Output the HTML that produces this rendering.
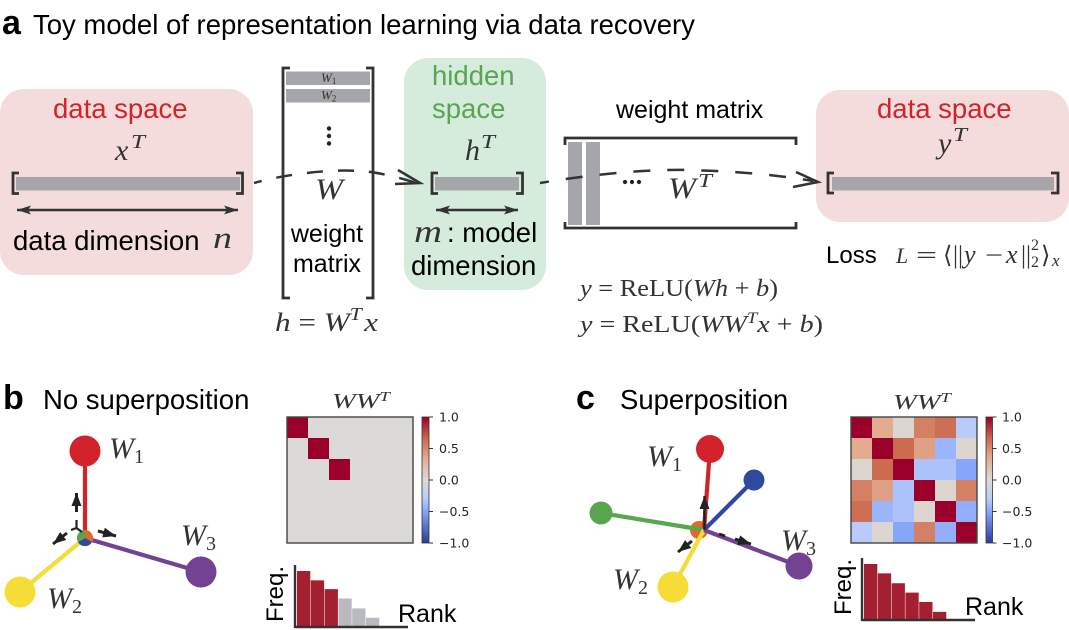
<!DOCTYPE html>
<html lang="en">
<head>
<meta charset="utf-8">
<title>Toy model of representation learning</title>
<style>
html,body{margin:0;padding:0;background:#fff;}
svg{display:block;}
text{font-family:"Liberation Sans",sans-serif;fill:#000;}
.m{font-family:"Liberation Serif",serif;font-style:italic;fill:#333;}
.r{font-family:"Liberation Serif",serif;font-style:normal;fill:#333;}
.tick{font-family:"DejaVu Sans",sans-serif;font-size:12.5px;fill:#262626;}
</style>
</head>
<body>
<svg id="fig" xmlns="http://www.w3.org/2000/svg" width="1069" height="630" viewBox="0 0 1069 630">
<defs>
<marker id="tip" markerUnits="userSpaceOnUse" markerWidth="15" markerHeight="9" refX="14" refY="4.5" orient="auto-start-reverse"><path d="M0,0 L14,4.5 L0,9 L3,4.5 Z" fill="#333"/></marker>
<marker id="small" markerUnits="userSpaceOnUse" markerWidth="14" markerHeight="10" refX="13" refY="5" orient="auto"><path d="M0,0 L13,5 L0,10 Z" fill="#222"/></marker>
<linearGradient id="cbar" x1="0" y1="0" x2="0" y2="1">
<stop offset="0" stop-color="#9a0029"/><stop offset="0.175" stop-color="#cd6b50"/><stop offset="0.325" stop-color="#e3ab90"/><stop offset="0.5" stop-color="#dcdad8"/><stop offset="0.65" stop-color="#b9cbfa"/><stop offset="0.75" stop-color="#86a6fb"/><stop offset="1" stop-color="#2a3a9a"/>
</linearGradient>
</defs>

<!-- Panel a -->
<text x="2" y="34" font-size="34" font-weight="bold">a</text>
<text x="33" y="34" font-size="27.5">Toy model of representation learning via data recovery</text>

<rect x="0" y="89" width="253" height="186" rx="24" fill="#f4dcdc"/>
<rect x="404" y="58" width="142" height="232" rx="24" fill="#d5ebdc"/>
<rect x="816" y="90" width="253" height="132" rx="24" fill="#f4dcdc"/>

<text x="53" y="118" font-size="27.5" style="fill:#d2232a">data space</text>
<text class="m" x="115" y="160" font-size="30">x</text>
<text class="m" x="131" y="148" font-size="20" textLength="14" lengthAdjust="spacingAndGlyphs">T</text>
<rect x="16" y="177" width="224" height="13.5" fill="#a5a6a9"/>
<path d="M19,173 H13 V193.5 H19" fill="none" stroke="#333" stroke-width="2.8"/>
<path d="M236,173 H242.5 V193.5 H236" fill="none" stroke="#333" stroke-width="2.8"/>
<line x1="17" y1="210" x2="238" y2="210" stroke="#333" stroke-width="2.4" marker-start="url(#tip)" marker-end="url(#tip)"/>
<text x="13" y="250" font-size="27.5">data dimension</text>
<text class="m" x="213" y="248" font-size="31" textLength="19" lengthAdjust="spacingAndGlyphs">n</text>

<path d="M290,68 H283 V298 H290" fill="none" stroke="#333" stroke-width="2.8"/>
<path d="M366,68 H373 V298 H366" fill="none" stroke="#333" stroke-width="2.8"/>
<rect x="286" y="71.5" width="84" height="13.5" fill="#a5a6a9"/>
<rect x="286" y="89" width="84" height="13.5" fill="#a5a6a9"/>
<text class="m" x="321" y="82" font-size="13">W<tspan dy="2" font-size="9" font-style="normal">1</tspan></text>
<text class="m" x="321" y="99.5" font-size="13">W<tspan dy="2" font-size="9" font-style="normal">2</tspan></text>
<circle cx="329" cy="128.5" r="2.2" fill="#222"/>
<circle cx="329" cy="136" r="2.2" fill="#222"/>
<circle cx="329" cy="143.5" r="2.2" fill="#222"/>
<text class="m" x="315" y="199" font-size="30" textLength="28" lengthAdjust="spacingAndGlyphs">W</text>
<text x="327" y="242" font-size="25" text-anchor="middle">weight</text>
<text x="327" y="272" font-size="25" text-anchor="middle">matrix</text>
<text class="m" x="275" y="331" font-size="26" textLength="103" lengthAdjust="spacingAndGlyphs">h <tspan class="r">=</tspan> W<tspan dy="-11" font-size="18">T</tspan><tspan dy="11" dx="2">x</tspan></text>

<text x="432" y="85" font-size="27.5" style="fill:#5aa550">hidden</text>
<text x="432" y="118" font-size="27.5" style="fill:#5aa550">space</text>
<text class="m" x="465" y="160" font-size="30">h</text>
<text class="m" x="481" y="148" font-size="20" textLength="14" lengthAdjust="spacingAndGlyphs">T</text>
<rect x="435" y="177" width="84" height="13.5" fill="#a5a6a9"/>
<path d="M438,173 H432 V193.5 H438" fill="none" stroke="#333" stroke-width="2.8"/>
<path d="M516,173 H522.5 V193.5 H516" fill="none" stroke="#333" stroke-width="2.8"/>
<line x1="436" y1="210" x2="518" y2="210" stroke="#333" stroke-width="2.4" marker-start="url(#tip)" marker-end="url(#tip)"/>
<text class="m" x="414" y="242" font-size="32" textLength="28" lengthAdjust="spacingAndGlyphs">m</text>
<text x="447" y="242" font-size="27.5">: model</text>
<text x="411" y="275" font-size="27.5">dimension</text>

<path d="M254,183 C285,174 340,167 374,172.5 Q395,176 416,183" fill="none" stroke="#333" stroke-width="2.5" stroke-dasharray="16 15" stroke-dashoffset="8"/>
<path d="M398,170 L420,183 L395,184" fill="none" stroke="#333" stroke-width="2.6"/>

<text x="616" y="118" font-size="25">weight matrix</text>
<path d="M565,145 V138 H796 V145" fill="none" stroke="#333" stroke-width="2.8"/>
<path d="M565,222 V228 H796 V222" fill="none" stroke="#333" stroke-width="2.8"/>
<rect x="568" y="142" width="14" height="83" fill="#a5a6a9"/>
<rect x="586" y="142" width="14" height="83" fill="#a5a6a9"/>
<circle cx="625" cy="182" r="2.1" fill="#222"/>
<circle cx="632" cy="182" r="2.1" fill="#222"/>
<circle cx="639" cy="182" r="2.1" fill="#222"/>
<text class="m" x="668" y="198" font-size="30" textLength="28" lengthAdjust="spacingAndGlyphs">W</text>
<text class="m" x="698" y="187" font-size="20" textLength="14" lengthAdjust="spacingAndGlyphs">T</text>
<path d="M540,183 C600,173 660,168 700,170.5 Q760,172 813,181" fill="none" stroke="#333" stroke-width="2.5" stroke-dasharray="17 17" stroke-dashoffset="8"/>
<path d="M796,172 L818,182 L793,187" fill="none" stroke="#333" stroke-width="2.6"/>

<text x="877" y="118" font-size="27.5" style="fill:#d2232a">data space</text>
<text class="m" x="938" y="153" font-size="30">y</text>
<text class="m" x="953" y="141" font-size="20" textLength="14" lengthAdjust="spacingAndGlyphs">T</text>
<rect x="832" y="177" width="222" height="13.5" fill="#a5a6a9"/>
<path d="M834,173 H828 V193 H834" fill="none" stroke="#333" stroke-width="2.8"/>
<path d="M1051,173 H1058 V193 H1051" fill="none" stroke="#333" stroke-width="2.8"/>
<text x="826" y="263" font-size="24">Loss</text>
<g>
<text class="m" x="896" y="263" font-size="22">L</text>
<text class="r" x="916" y="263" font-size="24" textLength="21" lengthAdjust="spacingAndGlyphs">=</text>
<text class="r" x="943" y="263" font-size="24">⟨</text>
<text class="r" x="953" y="263" font-size="25">||</text>
<text class="m" x="964" y="263" font-size="26">y</text>
<text class="r" x="985" y="263" font-size="24" textLength="18" lengthAdjust="spacingAndGlyphs">−</text>
<text class="m" x="1006" y="263" font-size="26">x</text>
<text class="r" x="1021" y="263" font-size="25">||</text>
<text class="r" x="1031" y="250" font-size="16">2</text>
<text class="r" x="1031" y="267" font-size="16">2</text>
<text class="r" x="1041" y="263" font-size="24">⟩</text>
<text class="m" x="1052" y="266" font-size="17">x</text>
</g>
<text class="m" x="580" y="296" font-size="24" textLength="198" lengthAdjust="spacingAndGlyphs">y <tspan class="r">= ReLU(</tspan>Wh <tspan class="r">+</tspan> b<tspan class="r">)</tspan></text>
<text class="m" x="580" y="332" font-size="24" textLength="243" lengthAdjust="spacingAndGlyphs">y <tspan class="r">= ReLU(</tspan>WW<tspan dy="-9" font-size="16">T</tspan><tspan dy="9">x</tspan> <tspan class="r">+</tspan> b<tspan class="r">)</tspan></text>

<!-- Panel b -->
<text x="3" y="409" font-size="34" font-weight="bold">b</text>
<text x="43" y="409" font-size="27.5">No superposition</text>
<line x1="85" y1="451" x2="85" y2="538" stroke="#d2232a" stroke-width="4.2"/>
<line x1="20" y1="592" x2="85" y2="538" stroke="#f6dc37" stroke-width="4.2"/>
<line x1="201" y1="572" x2="85" y2="538" stroke="#744292" stroke-width="4.2"/>
<circle cx="85" cy="451" r="15.5" fill="#d2232a"/>
<circle cx="20" cy="592" r="15.5" fill="#f6dc37"/>
<circle cx="201" cy="572" r="15.5" fill="#744292"/>
<path d="M85,538 L85,530 A8,8 0 0 1 92,542 Z" fill="#df6a2a"/>
<path d="M85,538 L92,542 A8,8 0 0 1 78,542 Z" fill="#2e4a9e"/>
<path d="M85,538 L78,542 A8,8 0 0 1 85,530 Z" fill="#5aa550"/>
<line x1="76.5" y1="512" x2="76.5" y2="493" stroke="#222" stroke-width="3" marker-end="url(#small)"/>
<path d="M76.5,520 V528 M76.5,528 L71,530 M76.5,528 L82,532" fill="none" stroke="#222" stroke-width="2.2"/>
<line x1="67" y1="533" x2="53" y2="544" stroke="#222" stroke-width="3" marker-end="url(#small)"/>
<line x1="98" y1="531" x2="116" y2="536" stroke="#222" stroke-width="3" marker-end="url(#small)"/>
<text class="m" x="109" y="458" font-size="30">W<tspan dy="5" font-size="20" font-style="normal">1</tspan></text>
<text class="m" x="47" y="608" font-size="30">W<tspan dy="5" font-size="20" font-style="normal">2</tspan></text>
<text class="m" x="181" y="545" font-size="30">W<tspan dy="5" font-size="20" font-style="normal">3</tspan></text>

<text class="m" x="332" y="408" font-size="21" textLength="58" lengthAdjust="spacingAndGlyphs">WW<tspan dy="-7" font-size="14">T</tspan></text>
<g id="heatB"></g>
<g id="cbarB"></g>
<g id="barsB"></g>
<line x1="295" y1="565" x2="295" y2="628" stroke="#333" stroke-width="2.4"/>
<line x1="295" y1="627" x2="408" y2="627" stroke="#333" stroke-width="2.4"/>
<text x="0" y="0" font-size="24" transform="translate(283,622) rotate(-90)">Freq.</text>
<text x="398" y="622" font-size="25">Rank</text>

<!-- Panel c -->
<text x="576" y="409" font-size="34" font-weight="bold">c</text>
<text x="620" y="409" font-size="27.5">Superposition</text>
<circle cx="699" cy="530" r="9" fill="#df6a2a"/>
<line x1="710" y1="449" x2="704" y2="530" stroke="#d2232a" stroke-width="4.2"/>
<line x1="754" y1="480" x2="704" y2="530" stroke="#2e4a9e" stroke-width="4.2"/>
<line x1="601" y1="513" x2="704" y2="530" stroke="#5aa550" stroke-width="4.2"/>
<line x1="673" y1="587" x2="704" y2="530" stroke="#f6dc37" stroke-width="4.2"/>
<line x1="799" y1="566" x2="704" y2="530" stroke="#744292" stroke-width="4.2"/>
<circle cx="710" cy="449" r="14" fill="#d2232a"/>
<circle cx="754" cy="480" r="10.5" fill="#2e4a9e"/>
<circle cx="601" cy="513" r="11.5" fill="#5aa550"/>
<circle cx="673" cy="587" r="15.5" fill="#f6dc37"/>
<circle cx="799" cy="566" r="13.5" fill="#744292"/>
<line x1="704.5" y1="530" x2="704.5" y2="496" stroke="#222" stroke-width="2.4" marker-end="url(#small)"/>
<line x1="692" y1="541" x2="678" y2="552" stroke="#222" stroke-width="3" marker-end="url(#small)"/>
<line x1="735" y1="539" x2="751" y2="544" stroke="#222" stroke-width="3" marker-end="url(#small)"/>
<line x1="719" y1="534" x2="725" y2="536" stroke="#222" stroke-width="3"/>
<text class="m" x="647" y="466" font-size="30">W<tspan dy="5" font-size="20" font-style="normal">1</tspan></text>
<text class="m" x="613" y="589" font-size="30">W<tspan dy="5" font-size="20" font-style="normal">2</tspan></text>
<text class="m" x="781" y="550" font-size="30">W<tspan dy="5" font-size="20" font-style="normal">3</tspan></text>

<text class="m" x="893" y="409" font-size="21" textLength="58" lengthAdjust="spacingAndGlyphs">WW<tspan dy="-7" font-size="14">T</tspan></text>
<g id="heatC"></g>
<g id="cbarC"></g>
<g id="barsC"></g>
<line x1="862" y1="558" x2="862" y2="621" stroke="#333" stroke-width="2.4"/>
<line x1="862" y1="620" x2="975" y2="620" stroke="#333" stroke-width="2.4"/>
<text x="0" y="0" font-size="24" transform="translate(851,615) rotate(-90)">Freq.</text>
<text x="965" y="615" font-size="25">Rank</text>
</svg>

<script>
const matrixB = [
  [1, 0, 0, 0, 0, 0],
  [0, 1, 0, 0, 0, 0],
  [0, 0, 1, 0, 0, 0],
  [0, 0, 0, 0, 0, 0],
  [0, 0, 0, 0, 0, 0],
  [0, 0, 0, 0, 0, 0]
];
const matrixC = [
  [1, 0.35, 0.04, 0.55, 0.63, -0.3],
  [0.35, 1, 0.65, 0.4, -0.42, 0.04],
  [0.04, 0.65, 1, -0.35, -0.35, -0.5],
  [0.55, 0.4, -0.35, 1, 0.04, 0.55],
  [0.63, -0.42, -0.35, 0.04, 1, -0.45],
  [-0.3, 0.04, -0.5, 0.55, -0.45, 1]
];
const colorbarTicks = [1, 0.5, 0, -0.5, -1];
const colorbarTickLabels = ["1.0", "0.5", "0.0", "\u22120.5", "\u22121.0"];
const freqB = [1, 0.83, 0.67, 0.5, 0.32, 0.15];
const activeB = [1, 1, 1, 0, 0, 0];
const freqC = [1, 0.83, 0.65, 0.48, 0.31, 0.13];
const activeC = [1, 1, 1, 1, 1, 1];

const NS = "http://www.w3.org/2000/svg";
function lerpHex(a, b, t) {
  const pa = [1, 3, 5].map(i => parseInt(a.substr(i, 2), 16));
  const pb = [1, 3, 5].map(i => parseInt(b.substr(i, 2), 16));
  return "rgb(" + pa.map((v, i) => Math.round(v + (pb[i] - v) * t)).join(",") + ")";
}
function cmap(v) {
  const xs = [-1, -0.5, -0.3, 0, 0.35, 0.65, 1];
  const cs = ["#2a3a9a", "#86a6fb", "#b9cbfa", "#dcdad8", "#e3ab90", "#cd6b50", "#9a0029"];
  const c = Math.max(-1, Math.min(1, v));
  for (let i = 0; i < xs.length - 1; i++) {
    if (c <= xs[i + 1]) return lerpHex(cs[i], cs[i + 1], (c - xs[i]) / (xs[i + 1] - xs[i]));
  }
  return cs[cs.length - 1];
}
function make(tag, attrs) {
  const el = document.createElementNS(NS, tag);
  for (const k in attrs) el.setAttribute(k, attrs[k]);
  return el;
}
function drawHeat(id, matrix, x0, y0, size) {
  const g = document.getElementById(id);
  const n = matrix.length;
  const cell = size / n;
  matrix.forEach((row, r) => row.forEach((v, c) => {
    const rect = make("rect", {x: x0 + c * cell, y: y0 + r * cell, width: cell + 0.3, height: cell + 0.3, fill: cmap(v)});
    
    
    g.appendChild(rect);
  }));
  const frame = make("rect", {x: x0, y: y0, width: size, height: size, fill: "none", stroke: "#444", "stroke-width": 1.4});
  
  
  g.appendChild(frame);
}
function drawBar(id, x0, y0, w, h, labelX) {
  const g = document.getElementById(id);
  const yOf = v => y0 + (1 - v) / 2 * h;
  const strip = make("rect", {x: x0, y: y0, width: w, height: h, fill: "url(#cbar)", stroke: "#333", "stroke-width": 0.8});
  
  
  g.appendChild(strip);
  colorbarTicks.forEach((v, i) => {
    const tick = make("line", {x1: x0 + w, x2: x0 + w + 4, y1: yOf(v), y2: yOf(v), stroke: "#333", "stroke-width": 1});
    
    
    g.appendChild(tick);
    const label = make("text", {x: labelX, y: yOf(v) + 4.5, class: "tick"});
    
    
    label.textContent = colorbarTickLabels[i];
    g.appendChild(label);
  });
}
function drawHist(id, values, active, x0, baseY, barW, maxH) {
  const g = document.getElementById(id);
  values.forEach((v, i) => {
    const h = v * maxH;
    const bar = make("rect", {x: x0 + i * barW, y: baseY - h, width: barW - 0.5, height: h, fill: active[i] ? "#a2202f" : "#b9bac0"});
    
    
    g.appendChild(bar);
  });
}
drawHeat("heatB", matrixB, 287, 417, 126);
drawBar("cbarB", 422, 417, 7, 126, 439);
drawHist("barsB", freqB, activeB, 297, 626, 13.8, 55);
drawHeat("heatC", matrixC, 851, 417, 126);
drawBar("cbarC", 986, 417, 6.5, 126, 1002);
drawHist("barsC", freqC, activeC, 864, 619, 13.8, 55);
</script>
</body>
</html>
